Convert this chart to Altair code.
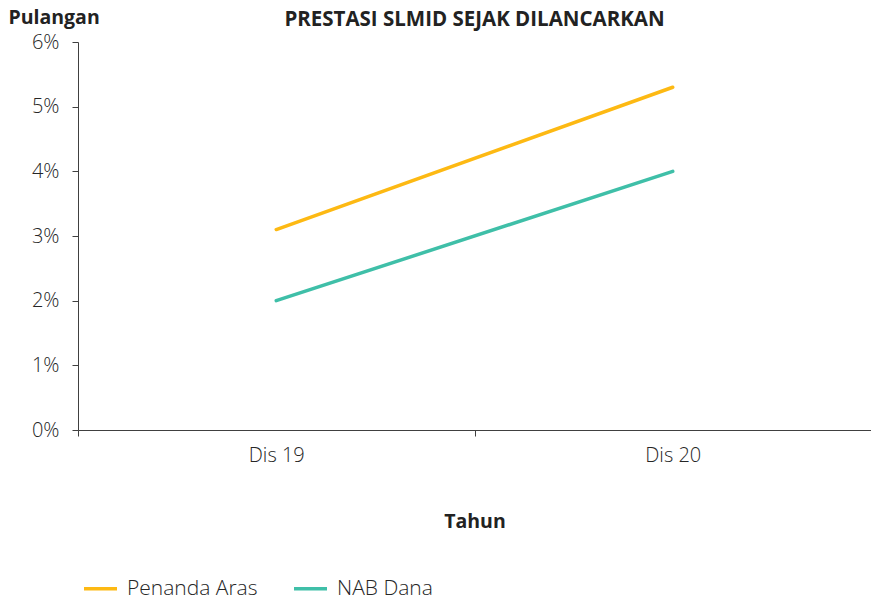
import altair as alt
import pandas as pd

categories = ["Dis 19", "Dis 20"]
penanda_aras = [3.1, 5.3]
nab_dana = [2.0, 4.0]
series_names = ["Penanda Aras", "NAB Dana"]
colors = ["#FDB913", "#3FBFA8"]

rows = []
for name, vals in zip(series_names, [penanda_aras, nab_dana]):
    for c, v in zip(categories, vals):
        rows.append({"Tahun": c, "Pulangan": v / 100, "Siri": name})
df = pd.DataFrame(rows)

FONT = "Open Sans"
LABEL_COLOR = "#262626"

chart = alt.Chart(df).mark_line(strokeWidth=3.5, strokeCap="round").encode(
    x=alt.X(
        "Tahun:N",
        sort=categories,
        bandPosition=0.5,
        scale=alt.Scale(type="band", paddingInner=0, paddingOuter=0),
        axis=alt.Axis(
            title="Tahun",
            tickBand="extent",
            labelAngle=0,
            labelFontSize=20,
            labelFont=FONT,
            labelFontWeight=300,
            labelColor=LABEL_COLOR,
            labelPadding=9,
            tickSize=6,
            tickColor="#404040",
            domainColor="#404040",
            titleFontSize=19.5,
            titleFont=FONT,
            titleFontWeight="bold",
            titleColor="#222222",
            titlePadding=47,
        ),
    ),
    y=alt.Y(
        "Pulangan:Q",
        scale=alt.Scale(domain=[0, 0.06], nice=False),
        axis=alt.Axis(
            title="Pulangan",
            format=".0%",
            values=[0, 0.01, 0.02, 0.03, 0.04, 0.05, 0.06],
            grid=False,
            labelFontSize=20,
            labelFont=FONT,
            labelFontWeight=300,
            labelColor=LABEL_COLOR,
            labelPadding=13,
            tickSize=6,
            tickColor="#404040",
            domainColor="#404040",
            titleAngle=0,
            titleX=-70,
            titleY=-19,
            titleAlign="left",
            titleBaseline="alphabetic",
            titleFontSize=19.5,
            titleFont=FONT,
            titleFontWeight="bold",
            titleColor="#222222",
        ),
    ),
    color=alt.Color(
        "Siri:N",
        sort=series_names,
        scale=alt.Scale(domain=series_names, range=colors),
        legend=alt.Legend(
            title=None,
            orient="none",
            legendX=4,
            legendY=528,
            direction="horizontal",
            symbolType="stroke",
            symbolSize=1089,
            symbolStrokeWidth=3.5,
            labelFontSize=21,
            labelFont=FONT,
            labelFontWeight=300,
            labelColor=LABEL_COLOR,
            labelOffset=8,
            columnPadding=29,
            padding=0,
        ),
    ),
).properties(
    width=793,
    height=388,
    title=alt.TitleParams(
        "PRESTASI SLMID SEJAK DILANCARKAN",
        anchor="middle",
        fontSize=20.5,
        font=FONT,
        fontWeight="bold",
        color="#222222",
        offset=0,
        dy=23,
    ),
    autosize=alt.AutoSizeParams(type="none"),
    padding={"left": 70, "top": 34, "right": 0, "bottom": 170},
).configure_view(stroke=None)

chart.save("out.html", embed_options={"renderer": "svg", "actions": False})
